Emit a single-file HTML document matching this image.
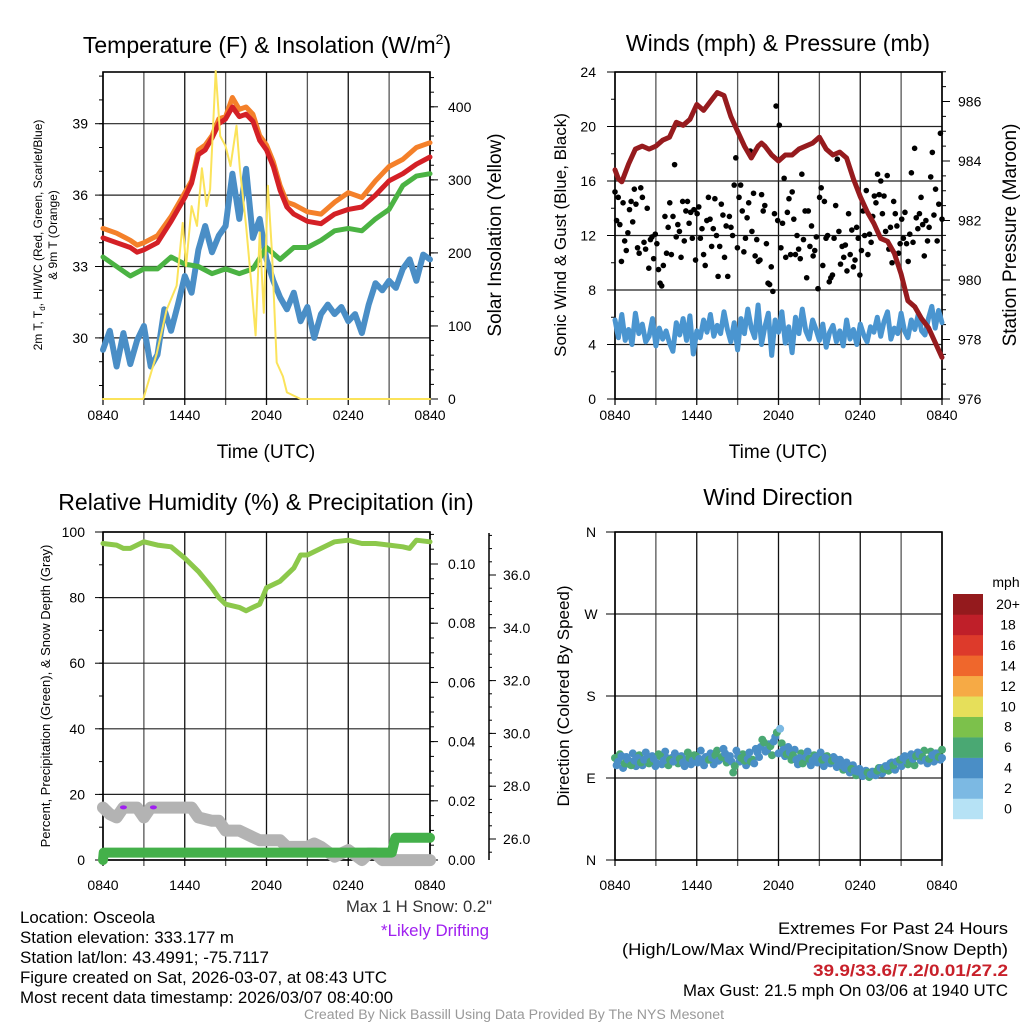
<!DOCTYPE html>
<html><head><meta charset="utf-8"><style>
html,body{margin:0;padding:0;background:#fff}
svg{display:block;font-family:"Liberation Sans",sans-serif}
</style></head><body>
<svg id="fig" width="1024" height="1024" viewBox="0 0 1024 1024">
<text x="267" y="53" font-size="23" text-anchor="middle">Temperature (F) &amp; Insolation (W/m<tspan font-size="14" dy="-9">2</tspan><tspan dy="9">)</tspan></text>
<text x="778" y="51" font-size="23" text-anchor="middle">Winds (mph) &amp; Pressure (mb)</text>
<text x="266" y="510" font-size="23" text-anchor="middle">Relative Humidity (%) &amp; Precipitation (in)</text>
<text x="778" y="505" font-size="23" text-anchor="middle">Wind Direction</text>

<text x="266" y="458" font-size="19" text-anchor="middle">Time (UTC)</text>
<text x="778" y="458" font-size="19" text-anchor="middle">Time (UTC)</text>

<text transform="translate(42,235) rotate(-90)" font-size="12" text-anchor="middle">2m T, T<tspan font-size="8" dy="3">d</tspan><tspan dy="-3">, HI/WC (Red, Green, Scarlet/Blue)</tspan></text>
<text transform="translate(57,235) rotate(-90)" font-size="12" text-anchor="middle">&amp; 9m T (Orange)</text>
<text transform="translate(501,235) rotate(-90)" font-size="19" text-anchor="middle">Solar Insolation (Yellow)</text>
<text transform="translate(566,235) rotate(-90)" font-size="17" text-anchor="middle">Sonic Wind &amp; Gust (Blue, Black)</text>
<text transform="translate(1016,235) rotate(-90)" font-size="19" text-anchor="middle">Station Pressure (Maroon)</text>
<text transform="translate(50,696) rotate(-90)" font-size="13" text-anchor="middle">Percent, Precipitation (Green), &amp; Snow Depth (Gray)</text>
<text transform="translate(569,696) rotate(-90)" font-size="17" text-anchor="middle">Direction (Colored By Speed)</text>

<g font-size="16.5">
<text x="20" y="923" textLength="135" lengthAdjust="spacingAndGlyphs">Location: Osceola</text>
<text x="20" y="943" textLength="214" lengthAdjust="spacingAndGlyphs">Station elevation: 333.177 m</text>
<text x="20" y="963" textLength="249" lengthAdjust="spacingAndGlyphs">Station lat/lon: 43.4991; -75.7117</text>
<text x="20" y="983" textLength="367" lengthAdjust="spacingAndGlyphs">Figure created on Sat, 2026-03-07, at 08:43 UTC</text>
<text x="20" y="1003" textLength="373" lengthAdjust="spacingAndGlyphs">Most recent data timestamp: 2026/03/07 08:40:00</text>
</g>
<text x="346" y="912" font-size="16.5" fill="#333" textLength="146" lengthAdjust="spacingAndGlyphs">Max 1 H Snow: 0.2"</text>
<text x="381" y="936" font-size="16.5" fill="#a020f0" textLength="108" lengthAdjust="spacingAndGlyphs">*Likely Drifting</text>
<g font-size="17">
<text x="778" y="934" textLength="230" lengthAdjust="spacingAndGlyphs">Extremes For Past 24 Hours</text>
<text x="622" y="955" textLength="386" lengthAdjust="spacingAndGlyphs">(High/Low/Max Wind/Precipitation/Snow Depth)</text>
<text x="813" y="976" textLength="195" lengthAdjust="spacingAndGlyphs" fill="#c8202a" font-weight="bold">39.9/33.6/7.2/0.01/27.2</text>
<text x="683" y="996" textLength="325" lengthAdjust="spacingAndGlyphs">Max Gust: 21.5 mph On 03/06 at 1940 UTC</text>
</g>
<text x="304" y="1019" font-size="13.5" fill="#999" textLength="420" lengthAdjust="spacingAndGlyphs">Created By Nick Bassill Using Data Provided By The NYS Mesonet</text>
<g id="layer"></g>
</svg>
<script>
// ---------- data ----------
const xTickLabels = ["0840","1440","2040","0240","0840"];
const tempTimes = [0,1,2,2.5,3,4,5,6,6.5,7,7.5,8,8.5,9,9.5,10,10.5,11,11.5,12,12.5,13,13.5,14,15,16,17,18,19,20,21,22,23,24];
const temp9m = [34.6,34.4,34.1,33.9,34.0,34.3,35.1,36.1,36.6,37.9,38.1,38.5,39.2,39.3,40.1,39.6,39.7,39.4,38.5,38.1,37.4,36.4,35.7,35.6,35.3,35.2,35.7,36.1,35.9,36.6,37.2,37.5,38.0,38.2];
const temp2m = [34.2,34.0,33.8,33.6,33.7,34.0,34.9,35.9,36.5,37.7,37.9,38.4,39.0,39.2,39.7,39.3,39.4,39.1,38.3,37.9,37.2,36.2,35.5,35.2,34.9,34.8,35.2,35.4,35.5,36.0,36.6,36.9,37.3,37.6];
const dewpoint = [33.4,33.0,32.6,32.9,32.9,33.4,33.1,33.0,32.7,32.9,32.7,32.9,33.8,33.3,33.8,33.8,34.1,34.5,34.6,34.5,35.0,35.4,36.4,36.8,36.9];
const windChill = [29.5,30.3,28.8,30.2,28.9,29.9,30.5,28.8,29.3,31.2,30.3,31.4,32.6,31.9,33.7,34.7,33.6,34.3,34.7,36.9,35.0,37.1,34.2,35.0,33.3,32.4,31.7,31.2,31.9,30.7,31.3,30.0,31.0,31.4,31.0,31.3,30.7,31.0,30.2,31.4,32.3,32.0,32.4,32.1,32.9,33.3,32.4,33.5,33.3];
const tempTicks = [30,33,36,39];
const solarTimes = [0,2.96,3.94,4.67,5.4,5.85,6.1,6.5,6.9,7.26,7.6,7.86,8.27,8.6,9.0,9.36,9.8,10.05,10.5,10.9,11.2,11.5,11.8,12.1,12.4,12.75,13.2,13.5,14.5,24];
const solarVals = [0,0,62,122,155,241,182,264,237,316,264,287,449,360,346,319,374,315,237,155,87,228,118,292,200,50,31,9,0,0];
const solarTicks = [0,100,200,300,400];

const pressTimes = [0,0.25,0.5,1,1.5,2,2.5,3,3.5,4,4.5,5,5.5,6,6.5,7,7.5,8,8.5,9,9.5,10,10.5,10.75,11,11.5,12,12.5,13,13.5,14,14.5,15,15.5,16,16.5,17,17.5,18,18.5,19,19.5,20,20.5,21,21.5,22,22.5,23,23.5,24];
const pressVals = [983.7,983.4,983.3,983.9,984.4,984.5,984.4,984.5,984.7,984.8,985.3,985.2,985.4,985.9,985.7,986.0,986.3,986.2,985.5,985.0,984.5,984.1,984.5,984.6,984.5,984.2,984.0,984.2,984.2,984.4,984.5,984.6,984.8,984.4,984.2,984.3,984.1,983.4,982.8,982.3,981.9,981.4,981.3,980.9,980.2,979.3,979.1,978.7,978.4,977.9,977.4];
const sonicWind = [5.8,4.5,6.2,4.3,5.1,4.0,6.3,4.8,5.5,4.2,4.6,5.9,3.9,5.2,4.4,5.0,4.1,3.5,5.6,4.7,5.9,4.3,6.1,3.3,5.0,4.5,5.8,4.9,6.2,4.6,5.4,4.8,6.4,5.1,4.2,5.6,3.6,5.9,4.8,6.6,5.2,4.5,6.9,4.0,5.3,6.3,3.2,5.8,4.9,6.4,4.1,5.3,3.4,6.0,4.8,6.6,5.0,4.4,5.8,5.1,4.3,5.5,3.8,4.9,5.4,4.2,5.0,3.9,5.8,4.4,5.1,4.0,5.5,4.7,4.2,5.3,4.9,6.0,4.6,5.7,6.4,4.4,5.2,4.8,6.3,5.0,4.5,5.8,5.1,6.2,5.0,4.7,5.9,6.8,5.2,6.5,5.6];
const gustVals = [15.2,13.1,14.8,12.8,10.1,14.4,11.6,10.9,12.2,13.9,14.5,13.0,15.4,14.3,11.1,10.7,15.5,14.8,11.5,11.0,14.0,9.6,11.7,11.9,10.3,12.1,11.4,9.5,8.5,8.3,9.8,13.4,10.7,12.6,14.4,10.6,13.4,17.2,11.9,12.8,12.3,10.4,14.5,11.6,13.8,14.5,12.9,13.7,11.8,13.9,10.2,13.6,14.1,11.8,12.5,10.6,9.8,13.1,14.8,13.2,11.2,12.5,14.7,12.0,9.0,11.2,14.3,13.5,10.4,12.7,9.0,13.4,12.6,12.0,15.7,17.7,11.1,14.8,15.7,13.8,10.8,11.8,13.3,14.4,18.2,12.3,15.1,10.5,11.7,10.1,10.2,15.0,13.8,14.2,11.4,8.5,8.4,9.7,7.9,13.6,21.5,13.1,20.1,11.1,12.9,16.2,10.4,13.7,14.7,10.6,15.2,13.2,10.6,12.0,11.0,10.3,16.5,11.7,13.8,8.9,13.8,11.2,12.7,10.5,10.9,11.9,8.1,14.8,15.5,9.8,14.5,11.8,12.0,8.6,8.9,9.1,11.8,14.2,17.6,12.3,9.9,11.2,10.4,11.3,9.4,13.6,10.6,12.4,9.7,10.2,12.6,11.8,9.1,10.9,13.8,12.0,15.3,10.6,12.1,11.5,13.4,14.9,14.4,16.5,15.0,16.0,13.6,14.9,12.3,16.4,11.0,12.6,10.0,14.5,13.6,12.7,10.7,11.4,13.2,11.8,13.7,11.4,10.1,12.1,16.6,11.5,18.4,13.3,12.5,13.6,14.8,12.8,10.5,13.1,11.6,12.6,16.3,18.1,13.5,15.4,11.6,14.3,19.5,13.2];
const windTicks = [0,4,8,12,16,20,24];
const pressTicks = [976,978,980,982,984,986];

const rhTimes = [0,1,1.5,2,3,4,5,6,7,8,8.5,9,10,10.5,11,11.5,12,13,14,14.5,15,16,17,18,19,20,21,22,22.5,23,24];
const rhVals = [96.5,96,95,95,97,96,95.5,92,88,83,80,78,77,76,77,78,83,85,89,93,93,95,97,97.5,96.5,96.5,96,95.5,95,97.5,97];
const snowTimes = [0,0.5,1,1.5,2,2.5,3,3.5,4,5,6,6.5,7,8,8.5,9,10,11,11.5,12,13,13.5,14,15,15.5,16,17,18,19,19.5,20,20.5,21,22,23,24];
const snowVals = [27.19,26.94,26.82,27.19,27.19,27.19,26.82,27.19,27.19,27.19,27.19,27.19,26.82,26.69,26.69,26.32,26.32,26.07,25.95,25.95,25.95,25.70,25.70,25.70,25.83,25.70,25.33,25.58,25.20,25.45,25.45,25.20,25.20,25.20,25.20,25.20];
const precipTimes = [0,0.05,21.2,21.45,24];
const precipVals = [0,0.0025,0.0025,0.0075,0.0075];
const driftTimes = [1.5,3.7];
const driftVals = [27.2,27.2];
const rhTicks = [0,20,40,60,80,100];
const precipTicks = [0,0.02,0.04,0.06,0.08,0.10];
const snowTicks = [26,28,30,32,34,36];

const dirVals = [112,108,114,106,110,104,109,112,107,110,113,108,111,106,114,109,112,110,108,113,111,107,110,112,109,114,111,108,113,110,112,115,109,113,117,111,108,103,114,112,109,111,108,106,118,124,129,121,125,130,140,144,121,116,118,115,110,112,106,113,111,109,113,108,110,112,107,109,111,106,104,101,103,100,98,97,96,95,96,94,96,98,101,100,103,106,104,108,110,112,109,107,111,114,116,113,110,111,115,117,113,112];
const dirSpeeds = [6.5,5,5.5,6.8,5,7,5,4.5,6.6,5,5.2,6.5,4.8,5,6.4,5,4.9,6.7,5.3,5,6.5,4.6,5.1,6.9,5,6.3,5.4,5,4.8,6.6,5.2,6.2,5,6.8,5,4.7,5.2,7.0,5,6.4,6.5,5,6.2,5.1,5,4.8,6.5,5,6.6,5,7.0,3.2,5,6.3,4.8,6.7,5,5.2,6.4,5,6.5,4.9,5.1,5.3,6.2,5,4.8,6.4,5,5.1,5.3,4.9,5,6.6,5,4.8,5.2,5.0,6.5,4.7,5,6.3,5.1,6.6,4.9,5,6.5,5.2,6.7,5,4.8,6.5,5.1,6.4,5,6.2,5,6.6,4.9,5.2,6.5,5];
const dirValsB = [104,116,101,113,105,117,103,115,104,118,106,114,103,116,105,119,104,112,117,106,114,103,118,105,115,107,120,104,113,117,105,120,111,122,107,114,96,120,108,116,104,118,110,122,113,132,119,127,115,135,117,128,114,124,110,121,105,117,108,119,104,115,107,118,103,114,106,113,102,110,99,107,96,104,93,100,92,98,91,97,93,101,95,103,98,107,99,108,103,114,105,116,104,118,109,120,106,119,108,117,110,121];
const dirSpeedsB = [5,6.5,5,4.8,6.6,5,5.1,6.4,5,4.9,6.3,5,5.2,6.7,5,4.8,6.5,5,5.1,6.2,5,4.7,6.4,5,6.6,5,5.2,4.9,6.5,5,4.8,6.3,5,5.1,6.6,5,6.8,4.9,5,6.4,5.2,5,6.5,4.8,5,6.7,5,5.1,6.3,4.9,5,6.5,5,5.2,6.4,4.8,5,6.6,5,5.1,4.9,6.3,5,5.2,4.8,6.5,5,5.1,4.9,5,6.4,5,4.8,5.2,6.6,5,4.9,5,6.5,5.1,5,6.4,4.8,5,6.6,5.2,5,6.3,4.9,5,6.5,5,6.7,5.1,5,6.4,4.8,6.6,5,6.5,5.2,6.3];
const dirTickLabels = ["N","E","S","W","N"];
const speedBinLabels = ["0","2","4","6","8","10","12","14","16","18","20+"];
const speedBinColors = ["#b6e2f5","#7cb9e3","#4a8ec6","#4aa873","#7cc14b","#e6df5a","#f6aa45","#ef672c","#dd3a2b","#bf1f29","#941a1d"];

// ---------- scales ----------
const NS="http://www.w3.org/2000/svg";
const layer=document.getElementById('layer');
const xL = t => 103 + t*327/24;
const xR = t => 615 + t*327/24;
const yTemp = v => 123.7 + (39-v)*23.8;
const ySolar = v => 399 - v*0.7305;
const yWind = v => 399 - v*327/24;
const yPress = v => 399 - (v-976)*29.75;
const yRH = v => 860 - v*3.28;
const yPrecip = v => 860 - v*2960;
const ySnow = v => 839 - (v-26)*26.4;
const yDir = v => 860 - v*328/360;

function el(tag, attrs, parent){
  const e=document.createElementNS(NS,tag);
  for(const k in attrs) e.setAttribute(k,attrs[k]);
  (parent||layer).appendChild(e);
  return e;
}
function pathD(ts, vs, xf, yf){
  return ts.map((t,i)=>(i?'L':'M')+xf(t).toFixed(1)+','+yf(vs[i]).toFixed(1)).join('');
}
function evenTimes(n){ const a=[]; for(let i=0;i<n;i++) a.push(i*24/(n-1)); return a; }
function series(ts, vs, xf, yf, color, w, name){
  const p=el('path',{d:pathD(ts,vs,xf,yf),fill:'none',stroke:color,'stroke-width':w,'stroke-linejoin':'round','stroke-linecap':'round'});
  
  
  return p;
}
function label(x,y,txt,anchor,size,name){
  const t=el('text',{x:x,y:y,'font-size':size||14,'text-anchor':anchor||'middle'});
  t.textContent=txt;
  
  
  return t;
}
function grid(x0,x1,y0,y1,ys){
  for(let k=0;k<=8;k++){
    const x=x0+k*(x1-x0)/8;
    const g=el('line',{x1:x,x2:x,y1:y0,y2:y1+6,stroke:k%2?'#555':'#111','stroke-width':1.3});
    
    
  }
  ys.forEach(y=>{
    const g=el('line',{x1:x0,x2:x1,y1:y,y2:y,stroke:'#222','stroke-width':1.2});
    
    
  });
  const b=el('rect',{x:x0,y:y0,width:x1-x0,height:y1-y0,fill:'none',stroke:'#000','stroke-width':1.6});
  
  
}
function xLabels(x0,x1,y){
  xTickLabels.forEach((s,i)=>label(x0+i*(x1-x0)/4, y, s, 'middle', 14, 'x-tick-label'));
}
function ticksY(x, vals, yf, dir, len){
  vals.forEach(v=>{
    const tk=el('line',{x1:x,x2:x+dir*len,y1:yf(v),y2:yf(v),stroke:'#000','stroke-width':1});
    
    
  });
}
function range(a,b,s){const r=[];for(let v=a;v<=b+1e-9;v+=s)r.push(+v.toFixed(4));return r;}

// ---------- panel 1: temperature ----------
grid(103,430,72,399,tempTicks.map(yTemp));
ticksY(103, range(28,41,1), yTemp, -1, 4);
ticksY(103, tempTicks, yTemp, -1, 8);
ticksY(430, range(0,440,20), ySolar, 1, 4);
ticksY(430, solarTicks, ySolar, 1, 8);
tempTicks.forEach(v=>label(88, yTemp(v)+5, String(v), 'end', 14, 'temperature-tick-label'));
solarTicks.forEach(v=>label(448, ySolar(v)+5, String(v), 'start', 14, 'solar-tick-label'));
xLabels(103,430,420);
series(evenTimes(windChill.length), windChill, xL, yTemp, '#4a8ec6', 6, 'wind-chill-line');
series(evenTimes(dewpoint.length), dewpoint, xL, yTemp, '#4bb343', 5, 'dewpoint-line');
series(tempTimes, temp9m, xL, yTemp, '#f4802a', 5, 'temp-9m-line');
series(tempTimes, temp2m, xL, yTemp, '#d42026', 5, 'temp-2m-line');
series(solarTimes, solarVals, xL, ySolar, '#fbe35a', 2, 'solar-insolation-line');

// ---------- panel 2: winds ----------
grid(615,942,72,399,windTicks.map(yWind));
ticksY(615, range(0,24,2), yWind, -1, 4);
ticksY(615, windTicks, yWind, -1, 8);
ticksY(942, range(976,987,0.5), yPress, 1, 4);
ticksY(942, pressTicks, yPress, 1, 8);
windTicks.forEach(v=>label(596, yWind(v)+5, String(v), 'end', 14, 'wind-tick-label'));
pressTicks.forEach(v=>label(958, yPress(v)+5, String(v), 'start', 14, 'pressure-tick-label'));
xLabels(615,942,420);
series(evenTimes(sonicWind.length), sonicWind, xR, yWind, '#4a95d0', 5, 'sonic-wind-line');
const gT=evenTimes(gustVals.length);
gustVals.forEach((v,i)=>{
  const c=el('circle',{cx:xR(gT[i]),cy:yWind(v),r:2.8,fill:'#000'});
  
  
});
series(pressTimes, pressVals, xR, yPress, '#961b1e', 5, 'pressure-line');

// ---------- panel 3: humidity ----------
grid(103,430,532,860,rhTicks.map(yRH));
ticksY(103, range(0,100,10), yRH, -1, 4);
ticksY(103, rhTicks, yRH, -1, 8);
ticksY(430, range(0,0.11,0.005), yPrecip, 1, 4);
ticksY(430, precipTicks, yPrecip, 1, 8);
rhTicks.forEach(v=>label(85, yRH(v)+5, String(v), 'end', 14, 'rh-tick-label'));
precipTicks.forEach(v=>label(448, yPrecip(v)+5, v.toFixed(2), 'start', 14, 'precip-tick-label'));
const sAx=el('line',{x1:489,x2:489,y1:533,y2:860,stroke:'#000','stroke-width':1.5});


ticksY(489, range(25.5,37.5,0.5), ySnow, 1, 3);
ticksY(489, snowTicks, ySnow, 1, 7);
snowTicks.forEach(v=>label(503, ySnow(v)+5, v.toFixed(1), 'start', 14, 'snow-tick-label'));
xLabels(103,430,890);
series(snowTimes, snowVals, xL, ySnow, '#b3b3b3', 12, 'snow-depth-line');
series(precipTimes, precipVals, xL, yPrecip, '#44b04a', 10, 'precipitation-line');
series(rhTimes, rhVals, xL, yRH, '#8cc84b', 5, 'relative-humidity-line');
driftTimes.forEach((t,i)=>{
  const e=el('ellipse',{cx:xL(t),cy:ySnow(driftVals[i]),rx:3.5,ry:2,fill:'#a020f0'});
  
  
});

// ---------- panel 4: direction ----------
const dirTicks=[0,90,180,270,360];
grid(615,942,532,860,dirTicks.map(yDir));
ticksY(615, dirTicks, yDir, -1, 9);
dirTickLabels.forEach((s,i)=>label(591, yDir(dirTicks[i])+5, s, 'middle', 14, 'direction-tick-label'));
xLabels(615,942,890);
function dirDots(vals, spds, offset){
  const n=vals.length;
  vals.forEach((v,i)=>{
    const t=Math.min(24,(i+offset)*24/(n-1));
    const bin=Math.min(10,Math.floor(spds[i]/2));
    const c=el('circle',{cx:xR(t),cy:yDir(v),r:4,fill:speedBinColors[bin]});
    
    
  });
}
dirDots(dirValsB, dirSpeedsB, 0.5);
dirDots(dirVals, dirSpeeds, 0);
// colorbar
label(1006, 587, 'mph', 'middle', 14, 'colorbar-title');
speedBinLabels.forEach((s,i)=>{
  const k=10-i;
  const r=el('rect',{x:953,y:594+k*20.45,width:30,height:20.7,fill:speedBinColors[i]});
  
  
  label(1008, 594+k*20.45+15, s, 'middle', 14, 'colorbar-label');
});
</script>
</body></html>
